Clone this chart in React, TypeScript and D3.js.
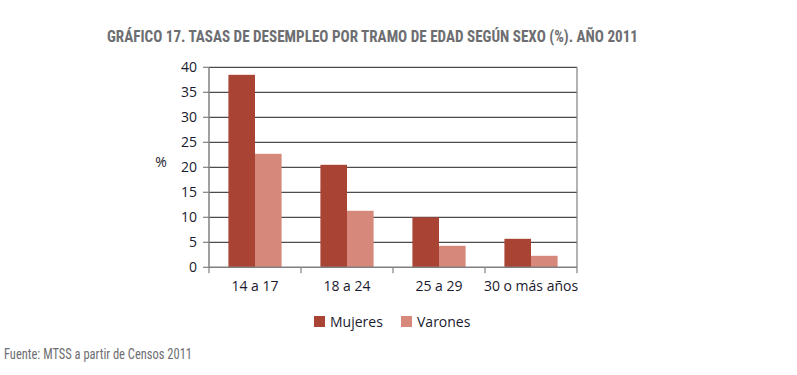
import React from "react";
import * as d3 from "d3";

const categories = ["14 a 17", "18 a 24", "25 a 29", "30 o más años"];
const seriesNames = ["Mujeres", "Varones"];
const mujeres = [38.5, 20.5, 10.0, 5.7];
const varones = [22.7, 11.3, 4.3, 2.3];
const yTicks = [0, 5, 10, 15, 20, 25, 30, 35, 40];
const colors = ["#A94434", "#D6887B"];

export default function App() {
  const W = 797, H = 375;
  const left = 209, right = 577, top = 67.3, bottom = 267.3;
  const x = d3.scaleBand<string>().domain(categories).range([left, right]).paddingInner(0).paddingOuter(0);
  const y = d3.scaleLinear().domain([0, 40]).range([bottom, top]);
  const inner = d3.scaleBand<string>().domain(seriesNames).range([0, x.bandwidth()]).paddingOuter(0.73).paddingInner(0);
  const data = [mujeres, varones];
  const labelFont = "'Open Sans', 'Noto Sans', sans-serif";
  const condFont = "'Liberation Sans Narrow', 'Roboto Condensed', 'Open Sans', sans-serif";
  return (
    <svg width={W} height={H} style={{ position: "absolute", left: 0, top: 0, background: "#fff" }}>
      <text x={372.5} y={42} textAnchor="middle" fontFamily={condFont} fontWeight="bold" fontSize={16} fill="#6d6e71" textLength={531} lengthAdjust="spacingAndGlyphs">
        GRÁFICO 17. TASAS DE DESEMPLEO POR TRAMO DE EDAD SEGÚN SEXO (%). AÑO 2011
      </text>
      {yTicks.map((t) => (
        <g key={t}>
          {t > 0 && <line x1={left} x2={right} y1={y(t)} y2={y(t)} stroke="#231f20" strokeWidth={1} />}
          <line x1={left - 6} x2={left} y1={y(t)} y2={y(t)} stroke="#808080" strokeWidth={1.2} />
          <text x={197} y={y(t) + 5} textAnchor="end" fontFamily={labelFont} fontSize={14} fill="#1a1a2e">{t}</text>
        </g>
      ))}
      {categories.map((c, i) =>
        data.map((s, j) => (
          <rect key={c + j} x={(x(c) as number) + (inner(seriesNames[j]) as number)} width={inner.bandwidth()}
            y={y(s[i])} height={bottom - y(s[i])} fill={colors[j]} />
        ))
      )}
      <line x1={left} x2={left} y1={top} y2={bottom} stroke="#808080" strokeWidth={1.5} />
      <line x1={right} x2={right} y1={top} y2={bottom} stroke="#808080" strokeWidth={1.2} />
      <line x1={left} x2={right} y1={bottom} y2={bottom} stroke="#808080" strokeWidth={1.5} />
      {[...categories.map((c) => x(c) as number), right].map((v, i) => (
        <line key={i} x1={v} x2={v} y1={bottom} y2={bottom + 6} stroke="#808080" strokeWidth={1.2} />
      ))}
      {categories.map((c) => (
        <text key={c} x={(x(c) as number) + x.bandwidth() / 2} y={291} textAnchor="middle" fontFamily={labelFont} fontSize={14} fill="#1a1a2e">{c}</text>
      ))}
      <text x={161} y={167} textAnchor="middle" fontFamily={labelFont} fontSize={14} fill="#1a1a2e">%</text>
      {seriesNames.map((n, j) => {
        const lx = [314, 401][j];
        return (
          <g key={n}>
            <rect x={lx} y={316} width={11} height={11} fill={colors[j]} />
            <text x={lx + 16} y={327} fontFamily={labelFont} fontSize={14} fill="#1a1a2e">{n}</text>
          </g>
        );
      })}
      <text x={4} y={359} fontFamily={condFont} fontSize={14} fill="#6d6e71" textLength={188} lengthAdjust="spacingAndGlyphs">
        Fuente: MTSS a partir de Censos 2011
      </text>
    </svg>
  );
}
